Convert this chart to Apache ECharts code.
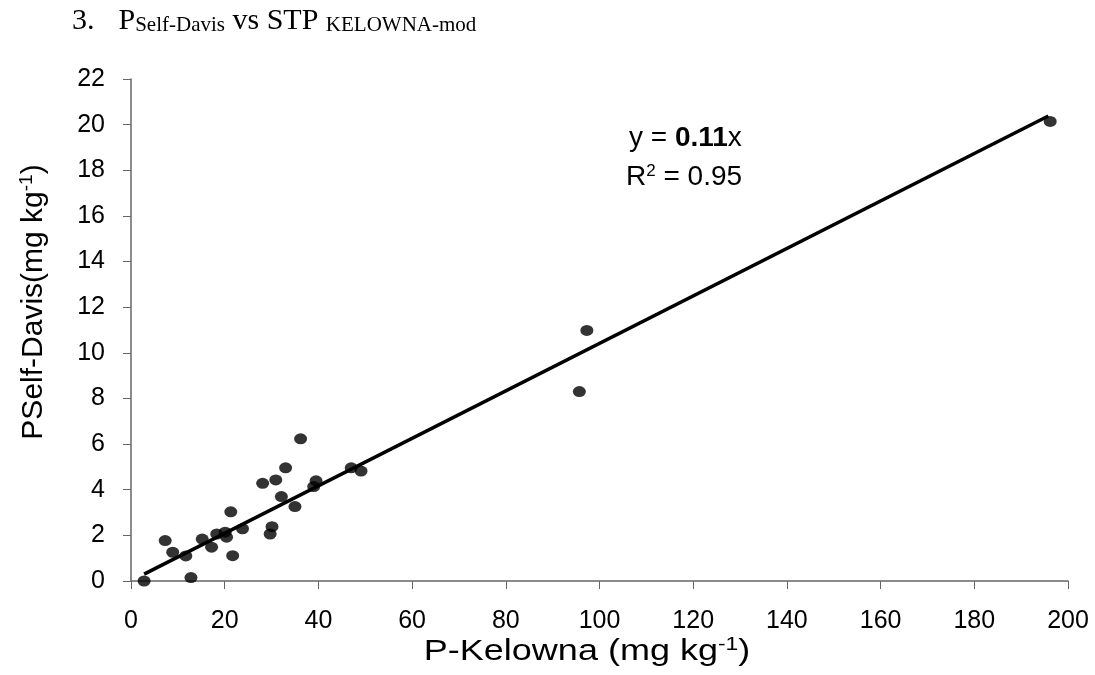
<!DOCTYPE html>
<html>
<head>
<meta charset="utf-8">
<script src="https://cdn.jsdelivr.net/npm/echarts@6/dist/echarts.min.js"></script>
<style>
  html, body { margin: 0; padding: 0; background: #fff; }
  #chart { width: 1095px; height: 675px; }
</style>
</head>
<body>
<div id="chart"></div>
<script>
// P-Kelowna (x) vs P Self-Davis (y), mg kg-1
const kelowna = [2.8, 7.3, 8.9, 11.7, 12.8, 15.2, 17.2, 18.3, 20.1, 20.4, 21.3, 21.7, 23.8,
  28.1, 29.7, 30.1, 30.9, 32.1, 33.0, 35.0, 36.2, 39.0, 39.5, 47.0, 49.1, 95.7, 97.3, 196.2];
const selfDavis = [0.0, 1.77, 1.26, 1.10, 0.15, 1.84, 1.48, 2.06, 2.14, 1.92, 3.03, 1.11, 2.29,
  4.28, 2.06, 2.38, 4.43, 3.70, 4.96, 3.26, 6.23, 4.14, 4.39, 4.96, 4.82, 8.30, 10.98, 20.14];
// fitted line endpoints as drawn
const trendX = [2.8, 195.8];
const trendY = [0.3, 20.38];
const xTicks = [0, 20, 40, 60, 80, 100, 120, 140, 160, 180, 200];
const yTicks = [0, 2, 4, 6, 8, 10, 12, 14, 16, 18, 20, 22];

const points = kelowna.map((x, i) => [x, selfDavis[i]]);
const line = trendX.map((x, i) => [x, trendY[i]]);

const chart = echarts.init(document.getElementById('chart'));
const axisFont = 'Liberation Sans, Arial, sans-serif';
const serif = 'Liberation Serif, Times New Roman, serif';

// axis titles are drawn as graphic text so they can sit off-centre like the original
const titleRich = {
  n: { fontSize: 30, fontFamily: axisFont, fill: '#000' },
  s: { fontSize: 19, fontFamily: axisFont, fill: '#000', verticalAlign: 'top', padding: [0, 0, 14, 0] }
};

chart.setOption({
  animation: false,
  grid: { left: 131, right: 27, top: 79, bottom: 94, outerBoundsMode: 'none', containLabel: false },
  xAxis: {
    type: 'value',
    min: xTicks[0], max: xTicks[xTicks.length - 1], interval: 20,
    splitLine: { show: false },
    axisLine: { lineStyle: { color: '#666', width: 1.5 } },
    axisTick: { length: 8, lineStyle: { color: '#666' } },
    axisLabel: { color: '#000', fontSize: 25, fontFamily: axisFont, margin: 28 }
  },
  yAxis: {
    type: 'value',
    min: yTicks[0], max: yTicks[yTicks.length - 1], interval: 2,
    splitLine: { show: false },
    axisLine: { show: true, lineStyle: { color: '#666', width: 1.5 } },
    axisTick: { show: true, length: 8, lineStyle: { color: '#666' } },
    axisLabel: { color: '#000', fontSize: 25, fontFamily: axisFont, margin: 26 }
  },
  series: [
    {
      type: 'line',
      data: line,
      symbol: 'none',
      lineStyle: { color: '#000', width: 3.5 },
      z: 2
    },
    {
      type: 'scatter',
      data: points,
      symbol: 'circle',
      symbolSize: [13, 11],
      itemStyle: { color: '#000' },
      z: 3
    }
  ],
  graphic: [
    {
      type: 'text', left: 72, top: 6,
      style: {
        text: '{n|3.}{g|}{n|P}{sub|Self-Davis}{n| vs STP }{sub|KELOWNA-mod}',
        rich: {
          n: { fontSize: 30, fontFamily: serif, fill: '#000' },
          g: { width: 24 },
          sub: { fontSize: 21, fontFamily: serif, fill: '#000', verticalAlign: 'bottom' }
        }
      }
    },
    {
      type: 'text', x: 587, y: 652, scaleX: 1.2,
      style: {
        text: '{n|P-Kelowna (mg kg}{s|-1}{n|)}',
        align: 'center', verticalAlign: 'middle',
        rich: titleRich
      }
    },
    {
      type: 'text', x: 34, y: 302, rotation: Math.PI / 2,
      style: {
        text: '{n|PSelf-Davis(mg kg}{s|-1}{n|)}',
        align: 'center', verticalAlign: 'middle',
        rich: titleRich
      }
    },
    {
      type: 'text', left: 629, top: 124,
      style: {
        text: '{n|y = }{b|0.11}{n|x}',
        rich: {
          n: { fontSize: 28, fontFamily: axisFont, fill: '#000' },
          b: { fontSize: 28, fontFamily: axisFont, fontWeight: 'bold', fill: '#000' }
        }
      }
    },
    {
      type: 'text', left: 626, top: 163,
      style: {
        text: '{n|R}{s|2}{n| = 0.95}',
        rich: {
          n: { fontSize: 28, fontFamily: axisFont, fill: '#000' },
          s: { fontSize: 17, fontFamily: axisFont, fill: '#000', verticalAlign: 'top', padding: [0, 0, 12, 0] }
        }
      }
    }
  ]
});
</script>
</body>
</html>
